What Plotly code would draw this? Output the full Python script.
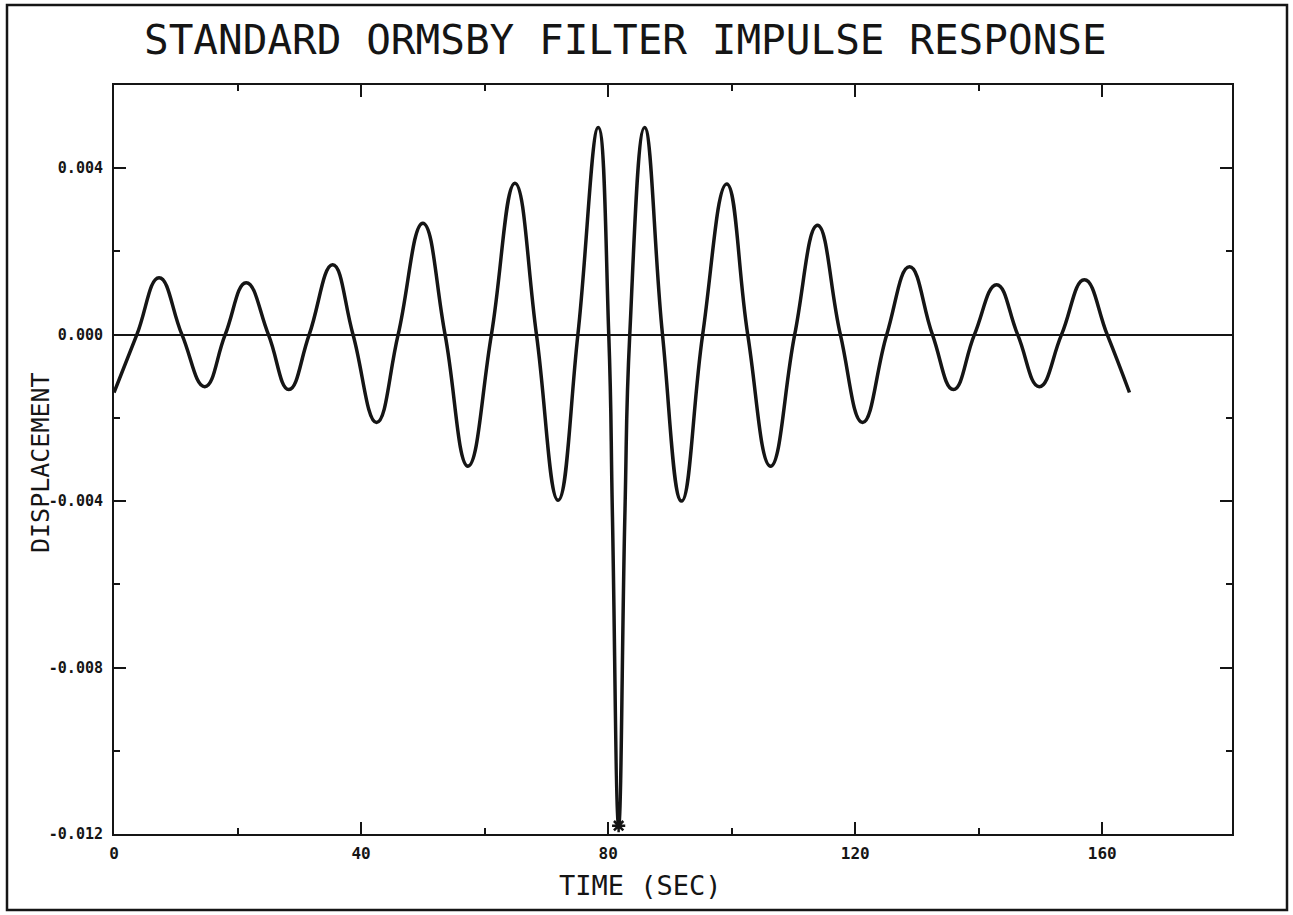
import plotly.graph_objects as go

# Points: peaks, troughs and zero crossings
# (time in seconds, displacement), plus the narrow central spike
time_s = [0.0, 3.7, 7.3, 11.0, 14.7, 18.0, 21.4, 25.0, 28.3, 31.6, 35.4, 38.7,
          42.5, 46.0, 50.0, 53.6, 57.3, 61.1, 64.9, 68.4, 71.9, 75.1, 78.4,
          80.1, 80.7, 81.7, 82.7, 83.5, 85.9, 88.8, 91.9, 95.3, 99.2, 102.6,
          106.3, 110.2, 113.9, 117.6, 121.2, 125.1, 128.8, 132.5, 135.9,
          139.3, 142.9, 146.3, 149.8, 153.4, 157.1, 160.8, 164.4]
displacement = [-0.00139, 0.0, 0.00137, 0.0, -0.00125, 0.0, 0.00125, 0.0,
                -0.00132, 0.0, 0.00168, 0.0, -0.00211, 0.0, 0.00268, 0.0,
                -0.00316, 0.0, 0.00364, 0.0, -0.00398, 0.0, 0.00498,
                0.0, -0.0044, -0.0118, -0.0044, 0.0, 0.00498, 0.0, -0.0040,
                0.0, 0.00362, 0.0, -0.00316, 0.0, 0.00263, 0.0, -0.00211, 0.0,
                0.00163, 0.0, -0.00132, 0.0, 0.0012, 0.0, -0.00125, 0.0,
                0.00132, 0.0, -0.00139]

min_time = [81.7]
min_value = [-0.0118]

x_tick_vals = [0, 40, 80, 120, 160]
x_tick_text = ["0", "40", "80", "120", "160"]
x_minor_vals = [20, 60, 100, 140]
y_tick_vals = [0.004, 0.0, -0.004, -0.008, -0.012]
y_tick_text = ["0.004", "0.000", "-0.004", "-0.008", "-0.012"]
y_minor_vals = [0.002, -0.002, -0.006, -0.010]

W, H = 1293, 915
L, R, T, B = 114, 61, 85, 81
pw, ph = W - L - R, H - T - B

def px(xpix):
    return (xpix - L) / pw

def py(ypix):
    return (H - B - ypix) / ph

INK = "#151515"
FONT = "DejaVu Sans Mono"

fig = go.Figure()
fig.add_trace(go.Scatter(x=time_s, y=displacement, mode="lines",
                         line=dict(color=INK, width=3.5, shape="spline", smoothing=1.3),
                         hoverinfo="skip", showlegend=False))
fig.add_trace(go.Scatter(x=min_time, y=min_value, mode="markers",
                         marker=dict(symbol="asterisk-open", size=11, color=INK,
                                     line=dict(color=INK, width=2.5)),
                         hoverinfo="skip", showlegend=False))

fig.update_layout(
    width=W, height=H,
    margin=dict(l=L, r=R, t=T, b=B),
    paper_bgcolor="white", plot_bgcolor="white",
    font=dict(family=FONT, color=INK),
    xaxis=dict(range=[0, 181], showgrid=False, zeroline=False,
               showline=True, linecolor=INK, linewidth=2, mirror="allticks",
               tickmode="array", tickvals=x_tick_vals, ticktext=x_tick_text,
               ticks="inside", ticklen=12, tickwidth=2, tickcolor=INK,
               tickfont=dict(family=FONT, size=16, color=INK, weight="bold"),
               ticklabelstandoff=4,
               minor=dict(tickmode="array", tickvals=x_minor_vals, ticks="inside",
                          ticklen=6, tickwidth=2, tickcolor=INK, showgrid=False)),
    yaxis=dict(range=[-0.012, 0.006], showgrid=False,
               zeroline=True, zerolinecolor=INK, zerolinewidth=2,
               showline=True, linecolor=INK, linewidth=2, mirror="allticks",
               tickmode="array", tickvals=y_tick_vals, ticktext=y_tick_text,
               ticks="inside", ticklen=12, tickwidth=2, tickcolor=INK,
               tickfont=dict(family=FONT, size=15, color=INK, weight="bold"),
               ticklabelstandoff=6,
               minor=dict(tickmode="array", tickvals=y_minor_vals, ticks="inside",
                          ticklen=6, tickwidth=2, tickcolor=INK, showgrid=False)),
    shapes=[dict(type="rect", xref="paper", yref="paper",
                 x0=px(7), x1=px(1287), y0=py(910), y1=py(5),
                 line=dict(color=INK, width=2.5), fillcolor="rgba(0,0,0,0)",
                 layer="below")],
    annotations=[
        dict(text="STANDARD ORMSBY FILTER IMPULSE RESPONSE", xref="paper", yref="paper",
             x=px(625), y=py(40), xanchor="center", yanchor="middle", showarrow=False,
             font=dict(family=FONT, size=41, color=INK)),
        dict(text="TIME (SEC)", xref="paper", yref="paper",
             x=px(640), y=py(885), xanchor="center", yanchor="middle", showarrow=False,
             font=dict(family=FONT, size=27, color=INK)),
        dict(text="DISPLACEMENT", xref="paper", yref="paper", textangle=-90,
             x=px(40), y=py(463), xanchor="center", yanchor="middle", showarrow=False,
             font=dict(family=FONT, size=25, color=INK)),
    ],
)

fig.write_html("out.html")
